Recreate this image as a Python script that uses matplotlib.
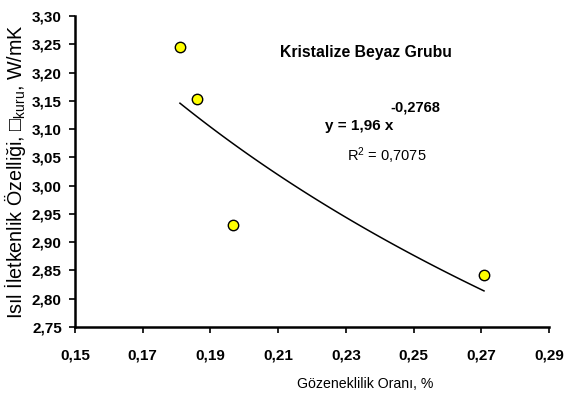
import matplotlib
matplotlib.use("Agg")
import matplotlib.pyplot as plt
import numpy as np
from matplotlib.ticker import FixedLocator

plt.rcParams['font.family'] = ['Liberation Sans', 'DejaVu Sans']
plt.rcParams['mathtext.fontset'] = 'custom'
plt.rcParams['mathtext.rm'] = 'Liberation Sans'
plt.rcParams['mathtext.it'] = 'Liberation Sans:italic'
plt.rcParams['mathtext.bf'] = 'Liberation Sans:bold'

# data
porosity = [0.181, 0.186, 0.1967, 0.2708]
conductivity = [3.245, 3.153, 2.930, 2.842]
# power trendline parameters shown in the chart
coef_a = 1.96
coef_b = -0.2768
xticks = [0.15, 0.17, 0.19, 0.21, 0.23, 0.25, 0.27, 0.29]
yticks = [2.75, 2.80, 2.85, 2.90, 2.95, 3.00, 3.05, 3.10, 3.15, 3.20, 3.25, 3.30]

W, H = 564, 399
fig = plt.figure(figsize=(W/100, H/100), dpi=100)
ax = fig.add_axes([75/W, 1-327/H, (549-75)/W, (327-16)/H])

xfit = np.linspace(min(porosity), max(porosity), 100)
ax.plot(xfit, coef_a * xfit ** coef_b, color='black', lw=1.1)
ax.plot(porosity, conductivity, 'o', ms=7.5, mfc='#FFFF00', mec='black', mew=1.0)

ax.set_xlim(0.15, 0.29)
ax.set_ylim(2.75, 3.30)
ax.xaxis.set_major_locator(FixedLocator(xticks))
ax.yaxis.set_major_locator(FixedLocator(yticks))
ax.set_xticklabels([f"{t:.2f}".replace('.', ',') for t in xticks], fontweight='bold', fontsize=11)
ax.set_yticklabels([f"{t:.2f}".replace('.', ',') for t in yticks], fontweight='bold', fontsize=11)
for s in ['top', 'right']:
    ax.spines[s].set_visible(False)
for s in ['left', 'bottom']:
    ax.spines[s].set_linewidth(1.8)
ax.tick_params(axis='both', direction='out', length=4.5, width=1.2, pad=5)
ax.tick_params(axis='x', pad=11)

ax.set_xlabel("Gözeneklilik Oranı, %", fontsize=10.2)
ax.xaxis.set_label_coords((365-75)/(549-75), -(377-327)/(327-16))
ax.set_ylabel("Isıl İletkenlik Özelliği, □$_{\\mathrm{kuru}}$, W/mK", fontsize=14.2)
ax.yaxis.set_label_coords(-(75-28)/(549-75), 0.5)

def fx(px): return (px-75)/(549-75)
def fy(py): return 1-(py-16)/(327-16)

ax.text(fx(366), fy(53), "Kristalize Beyaz Grubu", transform=ax.transAxes,
        ha='center', va='center', fontweight='bold', fontsize=11.3)
ax.text(fx(359), fy(126), "y = 1,96 x", transform=ax.transAxes,
        ha='center', va='center', fontweight='bold', fontsize=11)
ax.text(fx(415), fy(107), "-0,2768", transform=ax.transAxes,
        ha='center', va='center', fontweight='bold', fontsize=10.5)
ax.text(fx(387), fy(156), "R$^{2}$ = 0,7075", transform=ax.transAxes,
        ha='center', va='center', fontsize=10.5)

fig.savefig("out.png", dpi=100)
